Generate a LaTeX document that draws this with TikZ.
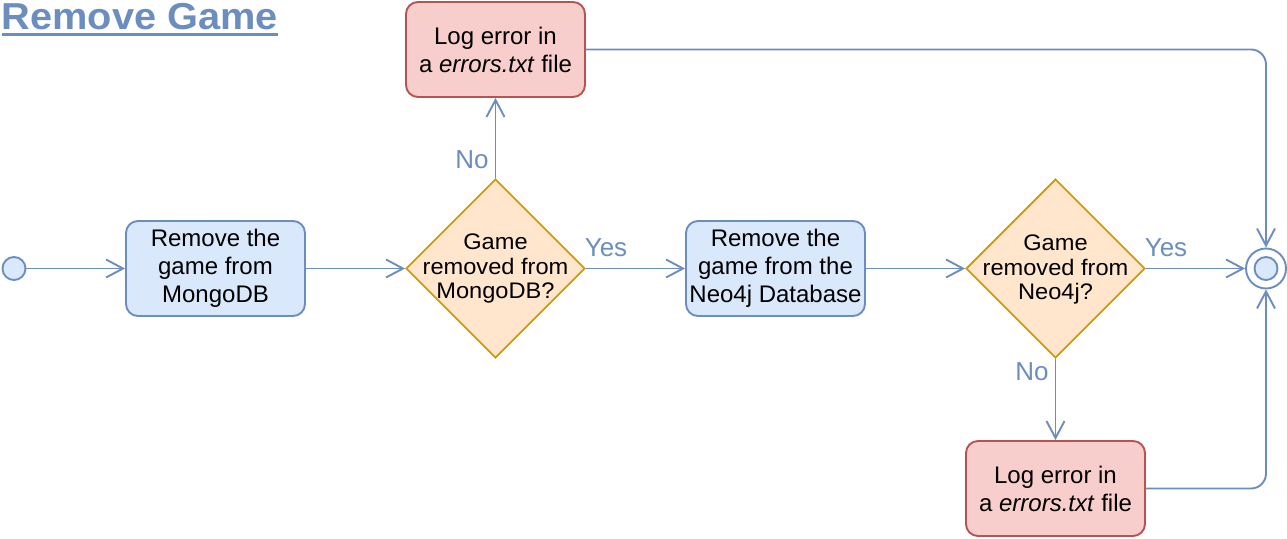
\documentclass[tikz,border=0pt]{standalone}
\usepackage{fontspec}
\setmainfont{Liberation Sans}
\usetikzlibrary{shapes.geometric,arrows.meta}
\definecolor{bstroke}{HTML}{6C8EBF}
\definecolor{bfill}{HTML}{DAE8FC}
\definecolor{ostroke}{HTML}{D79B00}
\definecolor{ofill}{HTML}{FFE6CC}
\definecolor{rstroke}{HTML}{B85450}
\definecolor{rfill}{HTML}{F8CECC}
\begin{document}
\begin{tikzpicture}[x=1pt,y=-1pt,
  actbox/.style={rectangle, rounded corners=12pt, draw=bstroke, fill=bfill, line width=1.9pt,
    minimum width=179pt, minimum height=95pt, inner sep=0pt, align=center,
    font=\fontsize{24}{28}\selectfont},
  errbox/.style={actbox, draw=rstroke, fill=rfill},
  dec/.style={diamond, draw=ostroke, fill=ofill, line width=1.9pt,
    minimum width=179pt, minimum height=179pt, inner sep=0pt},
  dectext/.style={align=center, inner sep=0pt, font=\fontsize{22.5}{24.5}\selectfont\addfontfeature{FakeStretch=1.05}},
  flow/.style={draw=bstroke, line width=1.9pt, -{Straight Barb[length=17pt,width=18pt]}},
  lbl/.style={text=bstroke, inner sep=0pt, font=\fontsize{26}{30}\selectfont},
  startnode/.style={circle, draw=bstroke, fill=bfill, line width=1.9pt, minimum size=23pt, inner sep=0pt}
]
\useasboundingbox (0,0) rectangle (1287,538);
\fill[white] (0,0) rectangle (1287,538);

% title
\node[anchor=base west, inner sep=0pt, text=bstroke, font=\fontsize{37.5}{40}\selectfont\bfseries\addfontfeature{FakeStretch=1.06}] (title) at (1.5,29) {Remove Game};
\fill[bstroke] ([yshift=-3.5pt]title.base west) rectangle ([yshift=-6.5pt]title.base east);

% nodes
\node[startnode] (start) at (14,268.5) {};
\node[actbox] (b1) at (215.5,268.5) {Remove the\\game from\\MongoDB};
\node[dec] (d1) at (495.5,268.5) {};
\node[dectext] (d1t) at (495.5,268.5) {Game\\removed from\\MongoDB?};
\node[actbox] (b2) at (775.5,268.5) {Remove the\\game from the\\Neo4j Database};
\node[dec] (d2) at (1055.5,268.5) {};
\node[dectext] (d2t) at (1055.5,269.5) {Game\\removed from\\Neo4j?};
\node[errbox] (e1) at (495.5,49.5) {Log error in\\a \textit{errors.txt} file};
\node[errbox] (e2) at (1055.5,488.5) {Log error in\\a \textit{errors.txt} file};
\node[circle, draw=bstroke, fill=white, line width=1.9pt, minimum size=40pt, inner sep=0pt] (end) at (1266,268.5) {};
\node[startnode] (endin) at (end.center) {};

% connectors
\draw[flow] (start) -- (b1);
\draw[flow] (b1) -- (d1);
\draw[flow] (d1) -- (b2);
\draw[flow] (b2) -- (d2);
\draw[flow] (d2) -- (end);
\draw[flow] (d1) -- (e1);
\draw[flow] (d2) -- (e2);
\draw[flow, rounded corners=15pt] (e1.east) -| (end.north);
\draw[flow, rounded corners=15pt] (e2.east) -| (end.south);

% labels
\node[lbl] (l1) at (472,160) {No};
\node[lbl] (l2) at (606,248) {Yes};
\node[lbl] (l3) at (1166,248) {Yes};
\node[lbl] (l4) at (1032,372) {No};
\end{tikzpicture}
\end{document}
